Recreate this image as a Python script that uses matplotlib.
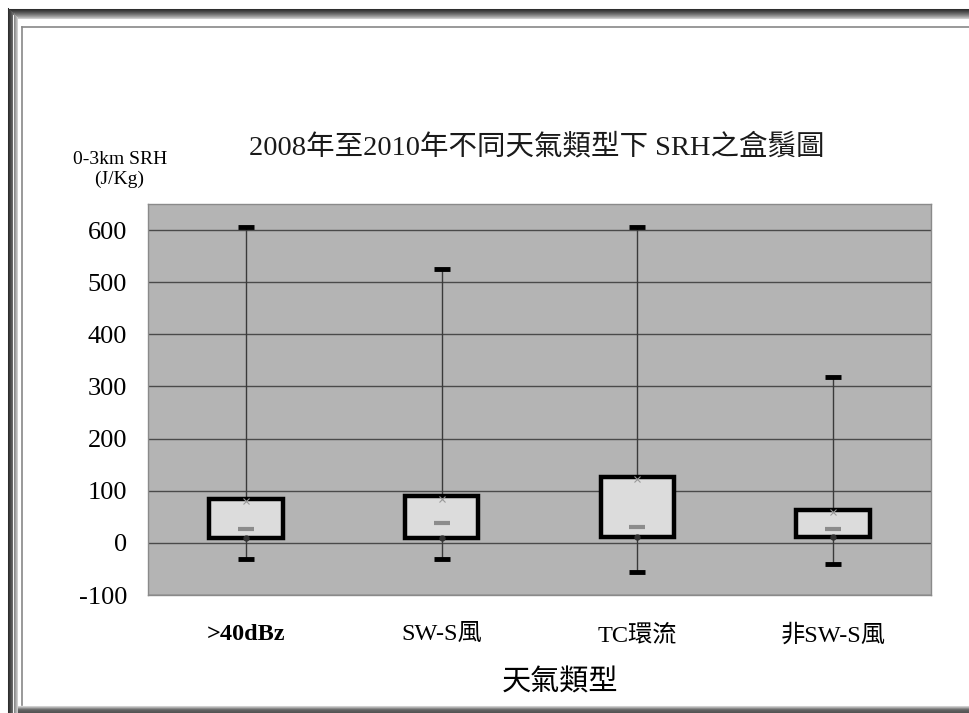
import matplotlib
matplotlib.use("Agg")
import matplotlib.pyplot as plt
from matplotlib.lines import Line2D
import numpy as np

plt.rcParams['font.family'] = ['Liberation Serif', 'Noto Sans CJK TC']

# SRH box-plot statistics per weather type (J/Kg)
categories = ['>40dBz', 'SW-S風', 'TC環流', '非SW-S風']
whisker_low = [-30, -30, -56, -40]
q1 = [9, 9, 11, 11]
median = [26, 38, 30, 27]
q3 = [84, 89, 126, 64]
whisker_high = [605, 525, 605, 319]
yticks = [-100, 0, 100, 200, 300, 400, 500, 600]

W, H = 970, 713
fig = plt.figure(figsize=(W / 100, H / 100), dpi=100)
fig.patch.set_facecolor('white')


def px(x, y):
    return x / W, 1 - y / H


# picture frame: dark graded band on top, left and bottom, thin inner rule
shades = ['#2e2e2e', '#3a3a3a', '#474747', '#565656', '#666666',
          '#777777', '#8a8a8a', '#9e9e9e', '#b4b4b4', '#cccccc']
for i, c in enumerate(shades):
    y = 8.5 + i
    fig.add_artist(Line2D([px(8, 0)[0] + i / W, 1], [px(0, y)[1]] * 2,
                          color=c, lw=0.75))
    x = 8.5 + i
    fig.add_artist(Line2D([x / W] * 2, [px(0, 8 + i)[1], px(0, 713)[1]],
                          color=c, lw=0.75))
for i, c in enumerate(['#d0d0d0', '#b0b0b0', '#8c8c8c', '#6e6e6e',
                       '#606060', '#5a5a5a', '#555555', '#505050']):
    y = 705.5 + i
    fig.add_artist(Line2D([px(18, 0)[0], 1], [px(0, y)[1]] * 2,
                          color=c, lw=0.75))
fig.add_artist(Line2D([22 / W, 1], [px(0, 26.5)[1]] * 2, color='#888888', lw=1.2))
fig.add_artist(Line2D([22 / W] * 2, [px(0, 26.5)[1], px(0, 705)[1]],
                      color='#888888', lw=1.2))

ax = fig.add_axes([148 / W, 1 - 595 / H, 783 / W, 391 / H])
ax.set_facecolor('#b4b4b4')
ax.set_xlim(-0.5, len(categories) - 0.5)
ax.set_ylim(-100, 650)
ax.set_yticks(yticks)
ax.set_yticklabels([str(v) for v in yticks])
ax.yaxis.grid(True, color='#4a4a4a', lw=1.0)
ax.set_axisbelow(True)
for s in ax.spines.values():
    s.set_color('#8a8a8a')
    s.set_linewidth(1.0)
ax.tick_params(axis='y', length=0, pad=15, labelsize=19)
ax.tick_params(axis='x', length=0, pad=21, labelsize=17.5)

xpos = np.arange(len(categories))
ax.set_xticks(xpos)
ax.set_xticklabels(categories)
ax.get_xticklabels()[0].set_fontweight('bold')

# whiskers
ax.vlines(xpos, whisker_low, whisker_high, color='#3a3a3a', lw=1.0, zorder=3)
# caps
cap_half = 0.041
ax.hlines(whisker_low, xpos - cap_half, xpos + cap_half, color='black', lw=3.5, zorder=4)
ax.hlines(whisker_high, xpos - cap_half, xpos + cap_half, color='black', lw=3.5, zorder=4)
# boxes
heights = [b - a for a, b in zip(q1, q3)]
ax.bar(xpos, heights, bottom=q1, width=0.375, color='#dcdcdc',
       edgecolor='black', linewidth=3.2, zorder=5)
# median marks
ax.hlines(median, xpos - cap_half, xpos + cap_half, color='#8c8c8c', lw=3.0, zorder=6)
# small quartile markers
ax.plot(xpos, np.array(q3) - 4, ls='none', marker='x', ms=4, mew=0.8,
        color='#999999', zorder=6)
ax.plot(xpos, q1, ls='none', marker='o', ms=3.5, color='#333333', zorder=6)

fig.text(*px(537, 147), '2008年至2010年不同天氣類型下 SRH之盒鬚圖',
         ha='center', va='center', fontsize=20.5, color='#1a1a1a')
fig.text(*px(120, 160), '0-3km SRH', ha='center', va='center', fontsize=14)
fig.text(*px(119, 179), '(J/Kg)', ha='center', va='center', fontsize=14)
fig.text(*px(560, 683), '天氣類型', ha='center', va='center', fontsize=21)

fig.savefig('out.png', dpi=100)
